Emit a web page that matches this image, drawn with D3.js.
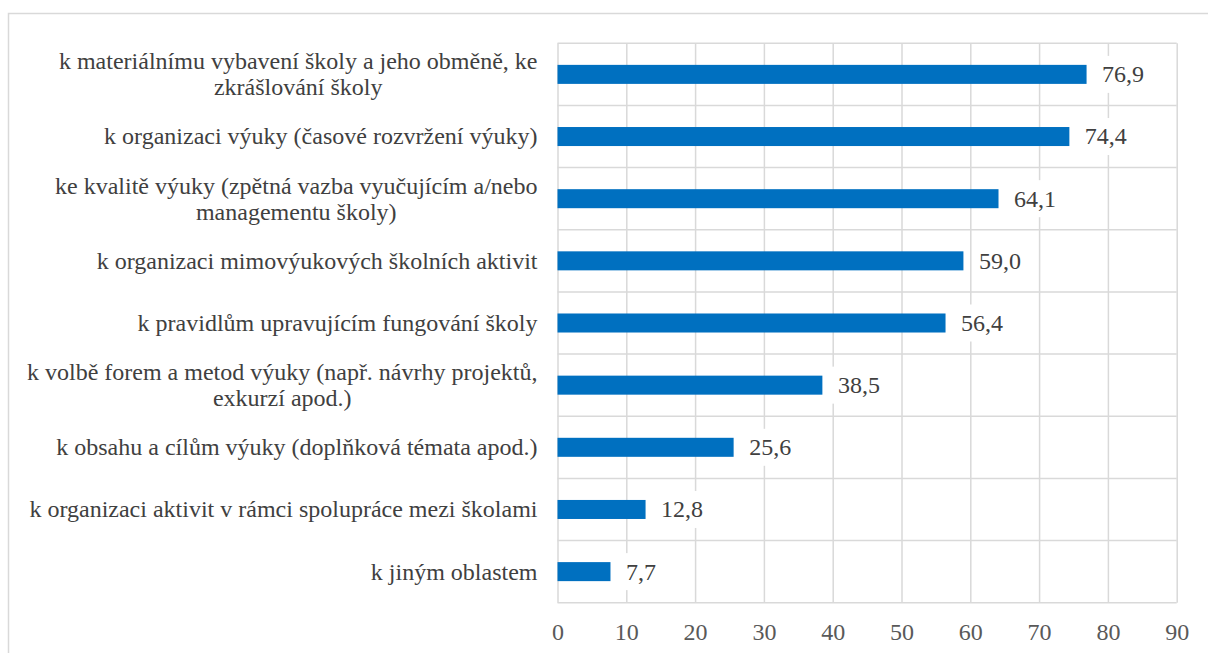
<!DOCTYPE html>
<html>
<head>
<meta charset="utf-8">
<script src="https://cdn.jsdelivr.net/npm/d3@7"></script>
<style>
  html, body { margin: 0; padding: 0; background: #fff; }
  #chart-container { width: 1208px; height: 653px; overflow: hidden; }
</style>
</head>
<body>
<div id="chart-container"></div>
<script>
// Chart data.
const categories = [
  "k materiálnímu vybavení školy a jeho obměně, ke\nzkrášlování školy",
  "k organizaci výuky (časové rozvržení výuky)",
  "ke kvalitě výuky (zpětná vazba vyučujícím a/nebo\nmanagementu školy)",
  "k organizaci mimovýukových školních aktivit",
  "k pravidlům upravujícím fungování školy",
  "k volbě forem a metod výuky (např. návrhy projektů,\nexkurzí apod.)",
  "k obsahu a cílům výuky (doplňková témata apod.)",
  "k organizaci aktivit v rámci spolupráce mezi školami",
  "k jiným oblastem"
];
const values = [76.9, 74.4, 64.1, 59.0, 56.4, 38.5, 25.6, 12.8, 7.7];
const xTicks = [0, 10, 20, 30, 40, 50, 60, 70, 80, 90];

// Sizing variables.
let margin = { top: 43.3, right: 31.3, bottom: 50.3, left: 557.5 },
  fWidth = 1208,
  fHeight = 653,
  width = fWidth - margin.left - margin.right,
  height = fHeight - margin.top - margin.bottom,
  barRatio = 0.306,
  fontFamily = '"Liberation Serif", "Times New Roman", Tinos, serif',
  fontSize = 24,
  lineHeight = 26,
  gridColor = "#d9d9d9",
  barColor = "#0070C0",
  textColor = "#404040";

let svg = d3.select("#chart-container").append("svg")
  .attr("width", fWidth)
  .attr("height", fHeight);

// Outer chart border (runs off the page on the right and bottom).
svg.append("rect")
  .attr("x", 8.5)
  .attr("y", 13.5)
  .attr("width", fWidth + 20)
  .attr("height", fHeight + 20)
  .attr("fill", "none")
  .attr("stroke", gridColor)
  .attr("stroke-width", 1.5);

let chart = svg.append("g")
  .attr("transform", `translate(${ margin.left } ${ margin.top })`);

// Scales.
let xScale = d3.scaleLinear()
  .domain([0, 90])
  .range([0, width]);

let yScale = d3.scaleBand()
  .domain(categories)
  .range([0, height])
  .padding(0);

let bw = yScale.bandwidth(),
  barH = bw * barRatio;

// Vertical grid.
chart.append("g")
  .attr("class", "x-grid")
  .call(d3.axisBottom(xScale).tickValues(xTicks).tickSize(height).tickFormat(""))
  .call(g => g.select(".domain").remove())
  .selectAll("line")
  .attr("stroke", gridColor)
  .attr("stroke-width", 1.5);

// Horizontal grid at band boundaries.
let bounds = categories.map(c => yScale(c)).concat([height]);
chart.append("g")
  .attr("class", "y-grid")
  .selectAll("line")
  .data(bounds)
  .enter()
  .append("line")
    .attr("x1", 0)
    .attr("x2", width)
    .attr("y1", d => d)
    .attr("y2", d => d)
    .attr("stroke", gridColor)
    .attr("stroke-width", 1.5);

// Bars.
chart.append("g")
  .selectAll("rect")
  .data(values)
  .enter()
  .append("rect")
    .attr("x", xScale(0))
    .attr("y", (d, i) => yScale(categories[i]) + (bw - barH) / 2)
    .attr("width", d => xScale(d) - xScale(0))
    .attr("height", barH)
    .attr("fill", barColor);

// Value labels with white boxes.
let labels = chart.append("g")
  .selectAll("g")
  .data(values)
  .enter()
  .append("g")
    .attr("transform", (d, i) => `translate(${ xScale(d) } ${ yScale(categories[i]) + bw / 2 })`);

labels.append("text")
  .attr("x", 15.5)
  .attr("dy", "0.33em")
  .style("font-family", fontFamily)
  .style("font-size", fontSize + "px")
  .attr("fill", textColor)
  .text(d => d.toFixed(1).replace(".", ","));

labels.insert("rect", "text")
  .attr("x", 9)
  .attr("y", -18.5)
  .attr("height", 37)
  .attr("width", function() {
    let t = d3.select(this.parentNode).select("text").node();
    return t.getComputedTextLength() + 13;
  })
  .attr("fill", "#fff");

// Category labels.
let catG = chart.append("g")
  .selectAll("text")
  .data(categories)
  .enter()
  .append("text")
    .style("font-family", fontFamily)
    .style("font-size", fontSize + "px")
    .attr("fill", textColor)
    .attr("text-anchor", "middle");

catG.each(function(c) {
  let el = d3.select(this),
    lines = c.split("\n"),
    cy = yScale(c) + bw / 2;
  lines.forEach((ln, k) => {
    el.append("tspan")
      .attr("y", cy + (k - (lines.length - 1) / 2) * lineHeight)
      .attr("dy", "0.33em")
      .text(ln);
  });
  let maxW = d3.max(el.selectAll("tspan").nodes(), n => n.getComputedTextLength());
  el.selectAll("tspan").attr("x", -20 - maxW / 2);
});

// X axis labels.
chart.append("g")
  .attr("transform", `translate(0 ${ height })`)
  .call(d3.axisBottom(xScale).tickValues(xTicks).tickSize(0).tickPadding(0).tickFormat(d => d))
  .call(g => g.select(".domain").remove())
  .selectAll("text")
    .style("font-family", fontFamily)
    .style("font-size", fontSize + "px")
    .attr("fill", "#595959")
    .attr("y", 37)
    .attr("dy", 0);
</script>
</body>
</html>
